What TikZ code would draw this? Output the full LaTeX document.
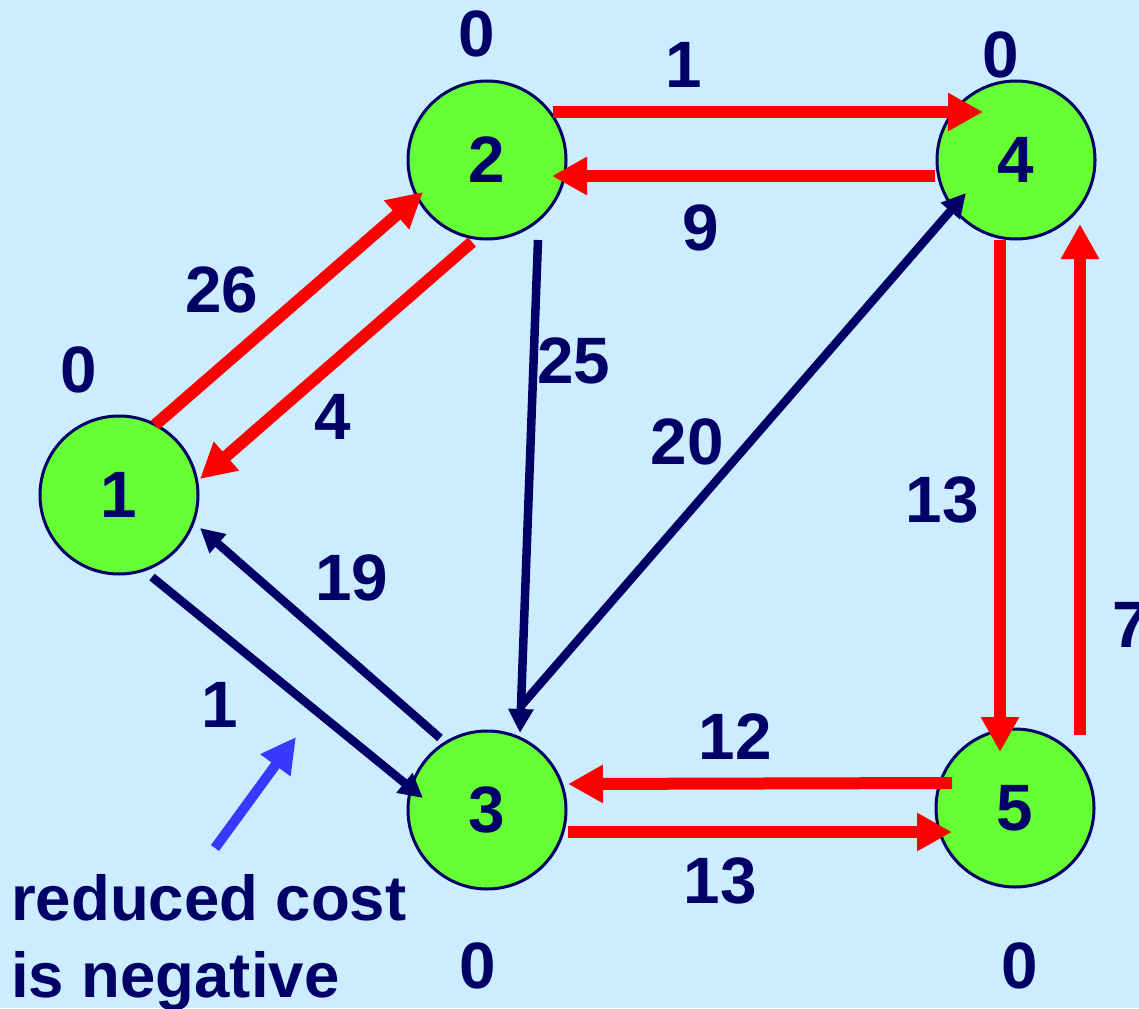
\documentclass[tikz,border=0pt]{standalone}
\usepackage{fontspec}
\setmainfont{Liberation Sans}
\usetikzlibrary{arrows.meta,calc}
\definecolor{bg}{HTML}{CCECFF}
\definecolor{vgreen}{HTML}{66FF33}
\definecolor{navy}{HTML}{000066}
\definecolor{bluearr}{HTML}{3838FF}
\newcommand\bigf{\fontsize{65.6pt}{78pt}\selectfont\bfseries}
\newcommand\notef{\fontsize{63.5pt}{76pt}\selectfont\bfseries}
\begin{document}
\begin{tikzpicture}[x=1pt,y=-1pt,
  vert/.style={circle, fill=vgreen, draw=navy, line width=3pt, minimum size=158pt, inner sep=0pt, text=navy, font=\bigf},
  lbl/.style={text=navy, inner sep=0pt, font=\bigf},
  notelbl/.style={text=navy, inner sep=0pt, font=\notef, anchor=base west},
  redarr/.style={draw=red, line width=12pt, -{Triangle[length=35pt,width=36pt]}},
  navyarr/.style={draw=navy, line width=8.5pt, -{Triangle[length=24pt,width=24pt]}},
  bluearrow/.style={draw=bluearr, line width=10pt, -{Triangle[length=35pt,width=35pt]}}]
\fill[bg] (0,0) rectangle (1139,1008);
\useasboundingbox (0,0) rectangle (1139,1008);
% vertices
\node[vert] (n1) at (119,495) {1};
\node[vert] (n2) at (487,160) {2};
\node[vert] (n3) at (487,810) {3};
\node[vert] (n4) at (1016,160) {4};
\node[vert] (n5) at (1015,808) {5};
% red arcs
\draw[redarr] ($(n1)+(36,-70)$) -- ($(n2)+(-64,32)$);
\draw[redarr] ($(n2)+(-15,82)$) -- ($(n1)+(81,-16)$);
\draw[redarr] ($(n2)+(66,-48)$) -- ($(n4)+(-33,-48)$);
\draw[redarr] ($(n4)+(-81,16)$) -- ($(n2)+(65,16)$);
\draw[redarr] ($(n4)+(-16,80)$) -- ($(n5)+(-15,-56)$);
\draw[redarr] ($(n5)+(65,-73)$) -- ($(n4)+(64,64)$);
\draw[redarr] ($(n5)+(-63,-25)$) -- ($(n3)+(81,-26)$);
\draw[redarr] ($(n3)+(81,22)$) -- ($(n5)+(-63,24)$);
% navy arcs
\draw[navyarr] ($(n2)+(51,80)$) -- ($(n3)+(33,-77)$);
\draw[navyarr] ($(n3)+(33,-103)$) -- ($(n4)+(-50,33)$);
\draw[navyarr] ($(n1)+(33,82)$) -- ($(n3)+(-64,-12)$);
\draw[navyarr] ($(n3)+(-47,-72)$) -- ($(n1)+(81,33)$);
% pointer
\coordinate (pa) at (215,848);
\coordinate (pb) at (296,737);
\draw[bluearrow] (pa) -- (pb);
% potentials
\node[lbl] (p2) at (477,34) {0};
\node[lbl] (p4) at (1001,55) {0};
\node[lbl] (p1) at (79,370) {0};
\node[lbl] (p3) at (478,966) {0};
\node[lbl] (p5) at (1020,966) {0};
% costs
\node[lbl] (c24) at (684,65) {1};
\node[lbl] (c42) at (701,228) {9};
\node[lbl] (c12) at (222,290) {26};
\node[lbl] (c21) at (333,417) {4};
\node[lbl] (c23) at (574,361) {25};
\node[lbl] (c34) at (687,442) {20};
\node[lbl] (c45) at (942,500) {13};
\node[lbl] (c54) at (1131,625) {7};
\node[lbl] (c31) at (352,578) {19};
\node[lbl] (c13) at (220,705) {1};
\node[lbl] (c53) at (735,737) {12};
\node[lbl] (c35) at (720,881) {13};
% note
\node[notelbl] (t1) at (11,920) {reduced cost};
\node[notelbl] (t2) at (11,997) {is negative};
\end{tikzpicture}
\end{document}
